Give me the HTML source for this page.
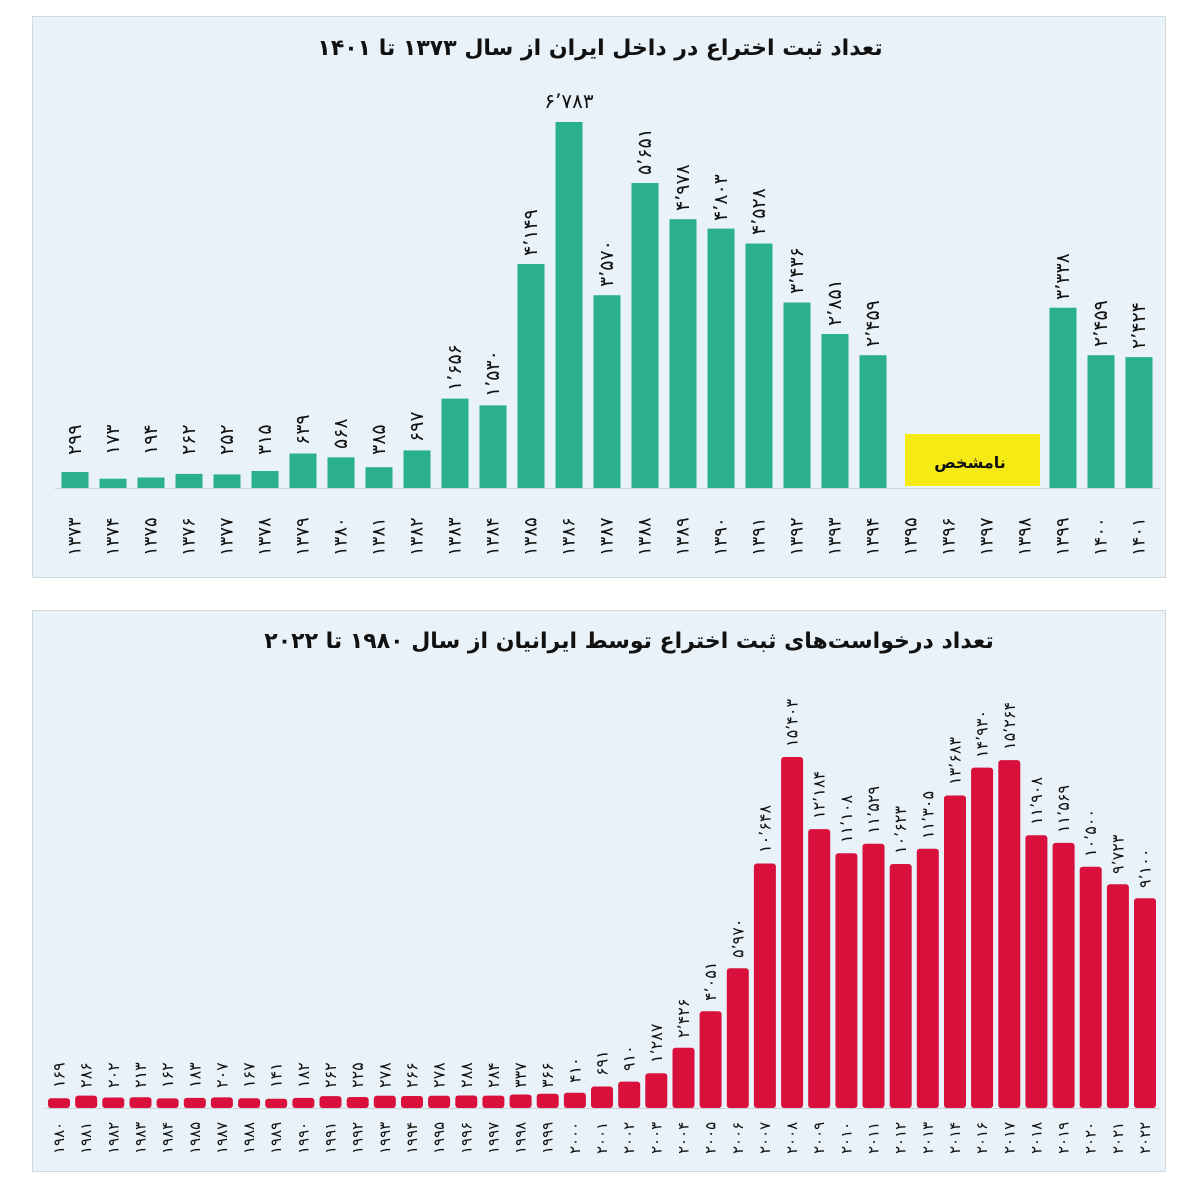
<!DOCTYPE html>
<html><head><meta charset="utf-8"><style>
html,body{margin:0;padding:0;background:#fff;}
svg{display:block;}
text{font-family:"DejaVu Sans","Liberation Sans",sans-serif;fill:#111;}
.v{font-size:19px;}
.y{font-size:18px;}
.yb{font-size:15px;}
.vb{font-size:16px;}
.t{font-size:22px;font-weight:bold;}
</style></head><body>
<svg width="1200" height="1194" viewBox="0 0 1200 1194" xmlns="http://www.w3.org/2000/svg">
<rect x="32.5" y="16.5" width="1133" height="561" fill="#e9f2f8" stroke="#cfd9e0"/>
<rect x="32.5" y="610.5" width="1133" height="561" fill="#e9f2f8" stroke="#cfd9e0"/>
<text x="600" y="55" text-anchor="middle" class="t" direction="rtl">تعداد ثبت اختراع در داخل ایران از سال ۱۳۷۳ تا ۱۴۰۱</text>
<text x="629" y="648" text-anchor="middle" class="t" direction="rtl">تعداد درخواست‌های ثبت اختراع توسط ایرانیان از سال ۱۹۸۰ تا ۲۰۲۲</text>
<line x1="55" y1="488.5" x2="1160" y2="488.5" stroke="#cbd3d9"/>
<line x1="45" y1="1108.5" x2="1160" y2="1108.5" stroke="#cbd3d9"/>
<g fill="#2bb08f">
<rect x="61.5" y="472" width="27" height="16"/>
<rect x="99.5" y="478.7" width="27" height="9.3"/>
<rect x="137.5" y="477.5" width="27" height="10.5"/>
<rect x="175.5" y="473.9" width="27" height="14.1"/>
<rect x="213.5" y="474.4" width="27" height="13.6"/>
<rect x="251.5" y="471" width="27" height="17"/>
<rect x="289.5" y="453.5" width="27" height="34.5"/>
<rect x="327.5" y="457.3" width="27" height="30.7"/>
<rect x="365.5" y="467.2" width="27" height="20.8"/>
<rect x="403.5" y="450.4" width="27" height="37.6"/>
<rect x="441.5" y="398.6" width="27" height="89.4"/>
<rect x="479.5" y="405.4" width="27" height="82.6"/>
<rect x="517.5" y="264" width="27" height="224"/>
<rect x="555.5" y="122" width="27" height="366"/>
<rect x="593.5" y="295.2" width="27" height="192.8"/>
<rect x="631.5" y="183" width="27" height="305"/>
<rect x="669.5" y="219.2" width="27" height="268.8"/>
<rect x="707.5" y="228.6" width="27" height="259.4"/>
<rect x="745.5" y="243.5" width="27" height="244.5"/>
<rect x="783.5" y="302.5" width="27" height="185.5"/>
<rect x="821.5" y="334" width="27" height="154"/>
<rect x="859.5" y="355.2" width="27" height="132.8"/>
<rect x="1049.5" y="307.7" width="27" height="180.3"/>
<rect x="1087.5" y="355.2" width="27" height="132.8"/>
<rect x="1125.5" y="357.1" width="27" height="130.9"/>
</g>
<rect x="905" y="434" width="135" height="52" fill="#f5ea14"/>
<text x="970" y="468" text-anchor="middle" style="font-size:16px;font-weight:bold" direction="rtl">نامشخص</text>
<text x="569" y="108" text-anchor="middle" class="v" style="font-size:20px">۶٬۷۸۳</text>
<g class="v" dominant-baseline="central">
<text transform="translate(75,455) rotate(-90)">۲۹۹</text>
<text transform="translate(113,455) rotate(-90)">۱۷۳</text>
<text transform="translate(151,455) rotate(-90)">۱۹۴</text>
<text transform="translate(189,455) rotate(-90)">۲۶۲</text>
<text transform="translate(227,455) rotate(-90)">۲۵۲</text>
<text transform="translate(265,455) rotate(-90)">۳۱۵</text>
<text transform="translate(303,445) rotate(-90)">۶۳۹</text>
<text transform="translate(341,449) rotate(-90)">۵۶۸</text>
<text transform="translate(379,455) rotate(-90)">۳۸۵</text>
<text transform="translate(417,442) rotate(-90)">۶۹۷</text>
<text transform="translate(455,391) rotate(-90)">۱٬۶۵۶</text>
<text transform="translate(493,397) rotate(-90)">۱٬۵۳۰</text>
<text transform="translate(531,256) rotate(-90)">۴٬۱۴۹</text>
<text transform="translate(607,287) rotate(-90)">۳٬۵۷۰</text>
<text transform="translate(645,175) rotate(-90)">۵٬۶۵۱</text>
<text transform="translate(683,211) rotate(-90)">۴٬۹۷۸</text>
<text transform="translate(721,221) rotate(-90)">۴٬۸۰۳</text>
<text transform="translate(759,235) rotate(-90)">۴٬۵۲۸</text>
<text transform="translate(797,294) rotate(-90)">۳٬۴۳۶</text>
<text transform="translate(835,326) rotate(-90)">۲٬۸۵۱</text>
<text transform="translate(873,347) rotate(-90)">۲٬۴۵۹</text>
<text transform="translate(1063,300) rotate(-90)">۳٬۳۳۸</text>
<text transform="translate(1101,347) rotate(-90)">۲٬۴۵۹</text>
<text transform="translate(1139,349) rotate(-90)">۲٬۴۲۴</text>
</g>
<g class="y" dominant-baseline="central">
<text transform="translate(75,556) rotate(-90)">۱۳۷۳</text>
<text transform="translate(113,556) rotate(-90)">۱۳۷۴</text>
<text transform="translate(151,556) rotate(-90)">۱۳۷۵</text>
<text transform="translate(189,556) rotate(-90)">۱۳۷۶</text>
<text transform="translate(227,556) rotate(-90)">۱۳۷۷</text>
<text transform="translate(265,556) rotate(-90)">۱۳۷۸</text>
<text transform="translate(303,556) rotate(-90)">۱۳۷۹</text>
<text transform="translate(341,556) rotate(-90)">۱۳۸۰</text>
<text transform="translate(379,556) rotate(-90)">۱۳۸۱</text>
<text transform="translate(417,556) rotate(-90)">۱۳۸۲</text>
<text transform="translate(455,556) rotate(-90)">۱۳۸۳</text>
<text transform="translate(493,556) rotate(-90)">۱۳۸۴</text>
<text transform="translate(531,556) rotate(-90)">۱۳۸۵</text>
<text transform="translate(569,556) rotate(-90)">۱۳۸۶</text>
<text transform="translate(607,556) rotate(-90)">۱۳۸۷</text>
<text transform="translate(645,556) rotate(-90)">۱۳۸۸</text>
<text transform="translate(683,556) rotate(-90)">۱۳۸۹</text>
<text transform="translate(721,556) rotate(-90)">۱۳۹۰</text>
<text transform="translate(759,556) rotate(-90)">۱۳۹۱</text>
<text transform="translate(797,556) rotate(-90)">۱۳۹۲</text>
<text transform="translate(835,556) rotate(-90)">۱۳۹۳</text>
<text transform="translate(873,556) rotate(-90)">۱۳۹۴</text>
<text transform="translate(911,556) rotate(-90)">۱۳۹۵</text>
<text transform="translate(949,556) rotate(-90)">۱۳۹۶</text>
<text transform="translate(987,556) rotate(-90)">۱۳۹۷</text>
<text transform="translate(1025,556) rotate(-90)">۱۳۹۸</text>
<text transform="translate(1063,556) rotate(-90)">۱۳۹۹</text>
<text transform="translate(1101,556) rotate(-90)">۱۴۰۰</text>
<text transform="translate(1139,556) rotate(-90)">۱۴۰۱</text>
</g>
<g fill="#d8103b">
<rect x="48" y="1098.2" width="22" height="9.8" rx="3"/>
<rect x="75.2" y="1095.6" width="22" height="12.4" rx="3"/>
<rect x="102.3" y="1097.5" width="22" height="10.5" rx="3"/>
<rect x="129.5" y="1097.2" width="22" height="10.8" rx="3"/>
<rect x="156.6" y="1098.4" width="22" height="9.6" rx="3"/>
<rect x="183.8" y="1097.9" width="22" height="10.1" rx="3"/>
<rect x="210.9" y="1097.4" width="22" height="10.6" rx="3"/>
<rect x="238.1" y="1098.3" width="22" height="9.7" rx="3"/>
<rect x="265.2" y="1098.8" width="22" height="9.2" rx="3"/>
<rect x="292.4" y="1097.9" width="22" height="10.1" rx="3"/>
<rect x="319.5" y="1096.1" width="22" height="11.9" rx="3"/>
<rect x="346.7" y="1097" width="22" height="11" rx="3"/>
<rect x="373.8" y="1095.8" width="22" height="12.2" rx="3"/>
<rect x="401" y="1096" width="22" height="12" rx="3"/>
<rect x="428.1" y="1095.8" width="22" height="12.2" rx="3"/>
<rect x="455.3" y="1095.5" width="22" height="12.5" rx="3"/>
<rect x="482.4" y="1095.6" width="22" height="12.4" rx="3"/>
<rect x="509.6" y="1094.5" width="22" height="13.5" rx="3"/>
<rect x="536.7" y="1093.8" width="22" height="14.2" rx="3"/>
<rect x="563.9" y="1092.8" width="22" height="15.2" rx="3"/>
<rect x="591" y="1086.5" width="22" height="21.5" rx="3"/>
<rect x="618.2" y="1081.6" width="22" height="26.4" rx="3"/>
<rect x="645.3" y="1073.2" width="22" height="34.8" rx="3"/>
<rect x="672.5" y="1047.7" width="22" height="60.3" rx="3"/>
<rect x="699.6" y="1011.3" width="22" height="96.7" rx="3"/>
<rect x="726.8" y="968.3" width="22" height="139.7" rx="3"/>
<rect x="753.9" y="863.5" width="22" height="244.5" rx="3"/>
<rect x="781.1" y="757" width="22" height="351" rx="3"/>
<rect x="808.2" y="829.1" width="22" height="278.9" rx="3"/>
<rect x="835.4" y="853.2" width="22" height="254.8" rx="3"/>
<rect x="862.5" y="843.7" width="22" height="264.3" rx="3"/>
<rect x="889.7" y="864" width="22" height="244" rx="3"/>
<rect x="916.8" y="848.8" width="22" height="259.2" rx="3"/>
<rect x="944" y="795.5" width="22" height="312.5" rx="3"/>
<rect x="971.1" y="767.6" width="22" height="340.4" rx="3"/>
<rect x="998.3" y="760.1" width="22" height="347.9" rx="3"/>
<rect x="1025.4" y="835.3" width="22" height="272.7" rx="3"/>
<rect x="1052.6" y="842.9" width="22" height="265.1" rx="3"/>
<rect x="1079.7" y="866.8" width="22" height="241.2" rx="3"/>
<rect x="1106.9" y="884.2" width="22" height="223.8" rx="3"/>
<rect x="1134" y="898.2" width="22" height="209.8" rx="3"/>
</g>
<g class="vb" dominant-baseline="central">
<text transform="translate(59,1088) rotate(-90)">۱۶۹</text>
<text transform="translate(86.2,1088) rotate(-90)">۲۸۶</text>
<text transform="translate(113.3,1088) rotate(-90)">۲۰۲</text>
<text transform="translate(140.5,1088) rotate(-90)">۲۱۳</text>
<text transform="translate(167.6,1088) rotate(-90)">۱۶۲</text>
<text transform="translate(194.8,1088) rotate(-90)">۱۸۳</text>
<text transform="translate(221.9,1088) rotate(-90)">۲۰۷</text>
<text transform="translate(249.1,1088) rotate(-90)">۱۶۷</text>
<text transform="translate(276.2,1088) rotate(-90)">۱۴۱</text>
<text transform="translate(303.4,1088) rotate(-90)">۱۸۲</text>
<text transform="translate(330.5,1088) rotate(-90)">۲۶۲</text>
<text transform="translate(357.7,1088) rotate(-90)">۲۲۵</text>
<text transform="translate(384.8,1088) rotate(-90)">۲۷۸</text>
<text transform="translate(412,1088) rotate(-90)">۲۶۶</text>
<text transform="translate(439.1,1088) rotate(-90)">۲۷۸</text>
<text transform="translate(466.3,1088) rotate(-90)">۲۸۸</text>
<text transform="translate(493.4,1088) rotate(-90)">۲۸۴</text>
<text transform="translate(520.6,1088) rotate(-90)">۳۳۷</text>
<text transform="translate(547.7,1088) rotate(-90)">۳۶۶</text>
<text transform="translate(574.9,1083) rotate(-90)">۴۱۰</text>
<text transform="translate(602,1076) rotate(-90)">۶۹۱</text>
<text transform="translate(629.2,1071) rotate(-90)">۹۱۰</text>
<text transform="translate(656.3,1063) rotate(-90)">۱٬۲۸۷</text>
<text transform="translate(683.5,1038) rotate(-90)">۲٬۴۲۶</text>
<text transform="translate(710.6,1001) rotate(-90)">۴٬۰۵۱</text>
<text transform="translate(737.8,958) rotate(-90)">۵٬۹۷۰</text>
<text transform="translate(764.9,853) rotate(-90)">۱۰٬۶۴۸</text>
<text transform="translate(792.1,747) rotate(-90)">۱۵٬۴۰۳</text>
<text transform="translate(819.2,819) rotate(-90)">۱۲٬۱۸۴</text>
<text transform="translate(846.4,843) rotate(-90)">۱۱٬۱۰۸</text>
<text transform="translate(873.5,834) rotate(-90)">۱۱٬۵۲۹</text>
<text transform="translate(900.7,854) rotate(-90)">۱۰٬۶۲۳</text>
<text transform="translate(927.8,839) rotate(-90)">۱۱٬۳۰۵</text>
<text transform="translate(955,785) rotate(-90)">۱۳٬۶۸۳</text>
<text transform="translate(982.1,758) rotate(-90)">۱۴٬۹۳۰</text>
<text transform="translate(1009.3,750) rotate(-90)">۱۵٬۲۶۴</text>
<text transform="translate(1036.4,825) rotate(-90)">۱۱٬۹۰۸</text>
<text transform="translate(1063.6,833) rotate(-90)">۱۱٬۵۶۹</text>
<text transform="translate(1090.7,857) rotate(-90)">۱۰٬۵۰۰</text>
<text transform="translate(1117.9,874) rotate(-90)">۹٬۷۲۳</text>
<text transform="translate(1145,888) rotate(-90)">۹٬۱۰۰</text>
</g>
<g class="yb" dominant-baseline="central">
<text transform="translate(59,1154) rotate(-90)">۱۹۸۰</text>
<text transform="translate(86.2,1154) rotate(-90)">۱۹۸۱</text>
<text transform="translate(113.3,1154) rotate(-90)">۱۹۸۲</text>
<text transform="translate(140.5,1154) rotate(-90)">۱۹۸۳</text>
<text transform="translate(167.6,1154) rotate(-90)">۱۹۸۴</text>
<text transform="translate(194.8,1154) rotate(-90)">۱۹۸۵</text>
<text transform="translate(221.9,1154) rotate(-90)">۱۹۸۷</text>
<text transform="translate(249.1,1154) rotate(-90)">۱۹۸۸</text>
<text transform="translate(276.2,1154) rotate(-90)">۱۹۸۹</text>
<text transform="translate(303.4,1154) rotate(-90)">۱۹۹۰</text>
<text transform="translate(330.5,1154) rotate(-90)">۱۹۹۱</text>
<text transform="translate(357.7,1154) rotate(-90)">۱۹۹۲</text>
<text transform="translate(384.8,1154) rotate(-90)">۱۹۹۳</text>
<text transform="translate(412,1154) rotate(-90)">۱۹۹۴</text>
<text transform="translate(439.1,1154) rotate(-90)">۱۹۹۵</text>
<text transform="translate(466.3,1154) rotate(-90)">۱۹۹۶</text>
<text transform="translate(493.4,1154) rotate(-90)">۱۹۹۷</text>
<text transform="translate(520.6,1154) rotate(-90)">۱۹۹۸</text>
<text transform="translate(547.7,1154) rotate(-90)">۱۹۹۹</text>
<text transform="translate(574.9,1154) rotate(-90)">۲۰۰۰</text>
<text transform="translate(602,1154) rotate(-90)">۲۰۰۱</text>
<text transform="translate(629.2,1154) rotate(-90)">۲۰۰۲</text>
<text transform="translate(656.3,1154) rotate(-90)">۲۰۰۳</text>
<text transform="translate(683.5,1154) rotate(-90)">۲۰۰۴</text>
<text transform="translate(710.6,1154) rotate(-90)">۲۰۰۵</text>
<text transform="translate(737.8,1154) rotate(-90)">۲۰۰۶</text>
<text transform="translate(764.9,1154) rotate(-90)">۲۰۰۷</text>
<text transform="translate(792.1,1154) rotate(-90)">۲۰۰۸</text>
<text transform="translate(819.2,1154) rotate(-90)">۲۰۰۹</text>
<text transform="translate(846.4,1154) rotate(-90)">۲۰۱۰</text>
<text transform="translate(873.5,1154) rotate(-90)">۲۰۱۱</text>
<text transform="translate(900.7,1154) rotate(-90)">۲۰۱۲</text>
<text transform="translate(927.8,1154) rotate(-90)">۲۰۱۳</text>
<text transform="translate(955,1154) rotate(-90)">۲۰۱۴</text>
<text transform="translate(982.1,1154) rotate(-90)">۲۰۱۶</text>
<text transform="translate(1009.3,1154) rotate(-90)">۲۰۱۷</text>
<text transform="translate(1036.4,1154) rotate(-90)">۲۰۱۸</text>
<text transform="translate(1063.6,1154) rotate(-90)">۲۰۱۹</text>
<text transform="translate(1090.7,1154) rotate(-90)">۲۰۲۰</text>
<text transform="translate(1117.9,1154) rotate(-90)">۲۰۲۱</text>
<text transform="translate(1145,1154) rotate(-90)">۲۰۲۲</text>
</g>
</svg>
</body></html>
